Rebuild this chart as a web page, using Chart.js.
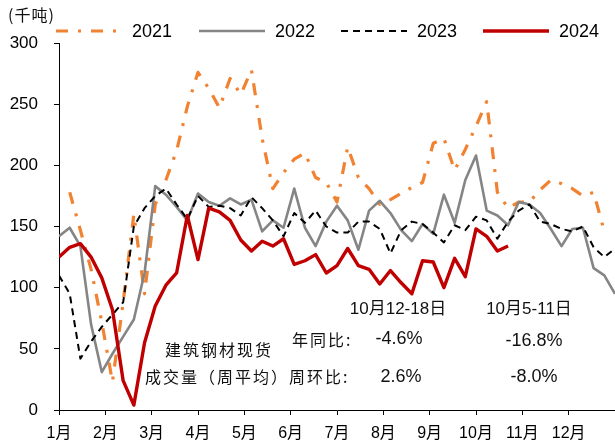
<!DOCTYPE html>
<html>
<head>
<meta charset="utf-8">
<script src="https://cdn.jsdelivr.net/npm/chart.js@4.4.1/dist/chart.umd.min.js"></script>
<style>
  html, body { margin: 0; padding: 0; background: #fff; }
</style>
</head>
<body>
<canvas id="chart" width="615" height="448"></canvas>
<script>
// weekly data, one point per week (0..52)
const months = ['1月', '2月', '3月', '4月', '5月', '6月', '7月', '8月', '9月', '10月', '11月', '12月'];
const weeks = [...Array(53).keys()];
const yTicks = [0, 50, 100, 150, 200, 250, 300];

const s2021 = [null, 178, 147, 115, 72, 23, 88, 160, 95, 168, 188, 212, 248, 276, 263, 247, 271, 258, 278, 222,
  181, 194, 205, 210, 190, 186, 170, 215, 190, 181, 168, 172, 177, 182, 186, 218, 222, 196, 213, 232,
  252, 178, 165, 170, 170, 180, 188, 185, 181, 175, 178, 146, null];
const s2022 = [142, 149, 134, 70, 31, 46, 60, 74, 112, 183, 176, 166, 155, 177, 170, 167, 173, 168, 172, 146,
  155, 149, 181, 149, 134, 154, 167, 155, 131, 163, 171, 161, 147, 138, 152, 144, 176, 153, 188, 208,
  163, 159, 151, 170, 168, 161, 148, 134, 148, 149, 116, 110, 95];
const s2023 = [110, 95, 42, 56, 68, 78, 88, 150, 165, 175, 181, 168, 156, 175, 166, 167, 165, 159, 174, 165,
  155, 142, 161, 153, 163, 150, 145, 145, 154, 154, 148, 128, 147, 154, 152, 145, 137, 151, 147, 158,
  155, 140, 154, 163, 168, 154, 152, 148, 146, 150, 133, 125, 132];
const s2024 = [125, 133, 136, 125, 108, 82, 24, 4, 55, 85, 102, 112, 159, 123, 165, 162, 155, 139, 130, 138,
  134, 140, 119, 122, 127, 112, 118, 132, 118, 115, 103, 114, 104, 95, 122, 121, 100, 124, 109, 148,
  142, 130, 134];

const latin = '"Liberation Sans", Arial, "Noto Sans CJK SC", sans-serif';
const cjk = '"Noto Sans CJK SC", "Liberation Sans", sans-serif';

const series = [
  { label: '2021', data: s2021, color: '#F08232', width: 3.2, dash: [12, 10, 3, 10], order: 3 },
  { label: '2022', data: s2022, color: '#858585', width: 2.6, dash: [], order: 2 },
  { label: '2023', data: s2023, color: '#000000', width: 2, dash: [7, 5], order: 1 },
  { label: '2024', data: s2024, color: '#C00000', width: 3.4, dash: [], order: 0 },
];

// tick positions for month starts, in weeks
const monthTicks = months.map((m, i) => i * 52 / 12);

// legend row and text notes drawn on the canvas
const legendX = [56, 199, 341, 483];
const notes = [
  { text: '(千吨)', x: 8, y: 15, font: '16px ' + cjk, align: 'left', spacing: 1 },
  { text: '建筑钢材现货', x: 165, y: 350, font: '16px ' + cjk, align: 'left', spacing: 2 },
  { text: '成交量（周平均）周环比:', x: 145, y: 377, font: '16px ' + cjk, align: 'left', spacing: 2 },
  { text: '年同比:', x: 292, y: 340, font: '16px ' + cjk, align: 'left', spacing: 2 },
  { text: '10月12-18日', x: 398, y: 309, font: '17px ' + latin, align: 'center', spacing: 0 },
  { text: '10月5-11日', x: 529, y: 309, font: '17px ' + latin, align: 'center', spacing: 0 },
  { text: '-4.6%', x: 399, y: 339, font: '18px ' + latin, align: 'center', spacing: 0 },
  { text: '-16.8%', x: 534, y: 341, font: '18px ' + latin, align: 'center', spacing: 0 },
  { text: '2.6%', x: 401, y: 377, font: '18px ' + latin, align: 'center', spacing: 0 },
  { text: '-8.0%', x: 534, y: 377, font: '18px ' + latin, align: 'center', spacing: 0 },
];

const overlay = {
  id: 'overlay',
  afterDraw(chart) {
    const ctx = chart.ctx;
    ctx.save();
    // legend
    series.forEach((s, i) => {
      const x0 = legendX[i];
      ctx.beginPath();
      ctx.setLineDash(s.dash);
      ctx.lineWidth = s.width;
      ctx.strokeStyle = s.color;
      ctx.lineCap = 'butt';
      ctx.moveTo(x0, 31);
      ctx.lineTo(x0 + 66, 31);
      ctx.stroke();
      ctx.setLineDash([]);
      ctx.fillStyle = '#000';
      ctx.font = '18px ' + latin;
      ctx.textAlign = 'left';
      ctx.textBaseline = 'middle';
      ctx.fillText(s.label, x0 + 76, 32);
    });
    // notes
    notes.forEach(n => {
      ctx.font = n.font;
      ctx.letterSpacing = n.spacing + 'px';
      ctx.textAlign = n.align;
      ctx.textBaseline = 'middle';
      ctx.fillStyle = '#111';
      ctx.fillText(n.text, n.x, n.y);
    });
    ctx.restore();
  }
};

new Chart(document.getElementById('chart'), {
  type: 'line',
  data: {
    labels: weeks,
    datasets: series.map(s => ({
      label: s.label,
      data: s.data,
      borderColor: s.color,
      borderWidth: s.width,
      borderDash: s.dash,
      borderCapStyle: 'butt',
      borderJoinStyle: 'round',
      pointRadius: 0,
      tension: 0,
      fill: false,
      spanGaps: false,
      order: s.order,
    })),
  },
  options: {
    responsive: false,
    animation: false,
    layout: { padding: { top: 43, right: 0, left: 0, bottom: 0 } },
    plugins: { legend: { display: false }, tooltip: { enabled: false } },
    scales: {
      x: {
        type: 'linear',
        min: 0,
        max: 52,
        afterBuildTicks: sc => { sc.ticks = monthTicks.map(v => ({ value: v })); },
        afterFit: sc => { sc.height = 38; },
        grid: { drawOnChartArea: false, tickLength: 5, color: '#000' },
        border: { color: '#000', width: 1 },
        ticks: {
          autoSkip: false, maxRotation: 0, padding: 9, color: '#000',
          font: { family: latin, size: 16 },
          callback: (v, i) => months[i],
        },
      },
      y: {
        min: 0,
        max: 300,
        afterBuildTicks: sc => { sc.ticks = yTicks.map(v => ({ value: v })); },
        afterFit: sc => { sc.width = 59; },
        grid: { drawOnChartArea: false, tickLength: 5, color: '#000' },
        border: { color: '#000', width: 1 },
        ticks: { padding: 16, color: '#000', font: { family: latin, size: 17 } },
      },
    },
  },
  plugins: [overlay],
});
</script>
</body>
</html>
